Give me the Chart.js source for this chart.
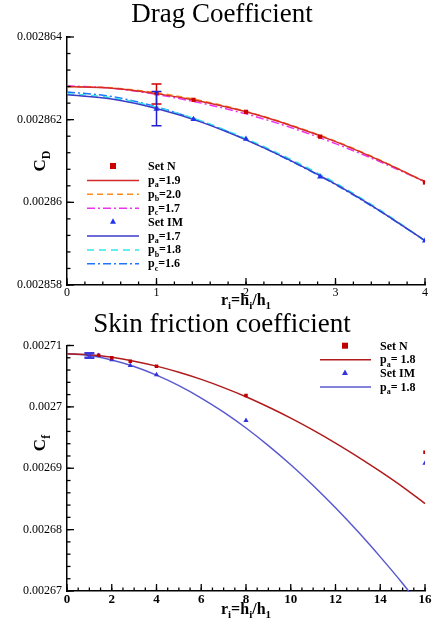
<!DOCTYPE html>
<html lang="en">
<head>
<meta charset="UTF-8">
<title>Drag and skin friction coefficients</title>
<style>
  html, body { margin: 0; padding: 0; background: #fff; }
  body { width: 434px; height: 625px; position: relative; overflow: hidden; }
  canvas { position: absolute; left: 0; }
  #dragChart { top: 0; }
  #frictionChart { top: 300px; }
</style>
</head>
<body>
<canvas id="dragChart" width="434" height="312"></canvas>
<canvas id="frictionChart" width="434" height="325"></canvas>

<script src="https://cdn.jsdelivr.net/npm/chart.js"></script>
<script>
// ---------- Drag coefficient data ----------
const dragX = [0, 0.5, 1, 1.5, 2, 2.5, 3, 3.5, 4];
const dragN_pa = [0.0028628, 0.00286276, 0.00286263, 0.00286244, 0.00286219, 0.00286186, 0.00286147, 0.00286101, 0.0028605];
const dragN_pb = [0.0028628, 0.00286277, 0.00286265, 0.00286246, 0.0028622, 0.00286187, 0.00286148, 0.00286102, 0.0028605];
const dragN_pc = [0.00286282, 0.00286276, 0.00286261, 0.0028624, 0.00286214, 0.00286181, 0.00286142, 0.00286098, 0.0028605];
const dragIM_pa = [0.0028626, 0.0028625, 0.00286227, 0.00286194, 0.00286151, 0.00286101, 0.00286044, 0.00285979, 0.00285907];
const dragIM_pb = [0.00286263, 0.00286253, 0.0028623, 0.00286197, 0.00286154, 0.00286104, 0.00286047, 0.00285981, 0.00285907];
const dragIM_pc = [0.00286267, 0.00286256, 0.00286231, 0.00286196, 0.00286152, 0.002861, 0.00286043, 0.00285978, 0.00285907];

const dragPtX = [1, 1.414, 2, 2.828, 4];
const dragSetN = [0.00286264, 0.00286248, 0.00286219, 0.00286159, 0.00286048];
const dragSetIM = [0.00286226, 0.00286201, 0.00286153, 0.00286062, 0.00285907];

// error bars at r=1: [low, high]
const dragErrN = [0.00286238, 0.00286286];
const dragErrIM = [0.00286185, 0.00286268];

const dragXTicks = [0, 1, 2, 3, 4];
const dragYTicks = [0.002858, 0.00286, 0.002862, 0.002864];
const dragYLabels = ['0.002858', '0.00286', '0.002862', '0.002864'];

// ---------- Skin friction data ----------
const fricX = [0, 1, 2, 3, 4, 5, 6, 7, 8, 9, 10, 11, 12, 13, 14, 15, 16];
const fricN_pa = [0.00270865, 0.00270848, 0.00270807, 0.00270745, 0.00270664, 0.00270564, 0.00270448, 0.00270314, 0.00270165, 0.00269998, 0.00269818, 0.00269622, 0.00269411, 0.00269187, 0.00268948, 0.00268697, 0.00268425];
const fricIM_pa = [0.00270865, 0.00270836, 0.00270765, 0.00270658, 0.00270517, 0.00270346, 0.00270144, 0.00269914, 0.00269656, 0.00269369, 0.00269057, 0.00268719, 0.00268355, 0.00267968, 0.00267556, 0.00267123, 0.00266655];

const fricPtX = [1, 1.414, 2, 2.828, 4, 8, 16];
const fricSetN = [0.0027085, 0.0027084, 0.002708, 0.00270745, 0.00270663, 0.00270187, 0.0026926];
const fricSetIM = [0.0027085, 0.00270837, 0.00270767, 0.00270675, 0.00270524, 0.0026978, 0.0026908];
const fricErrIM = [0.002708, 0.00270875];

const fricXTicks = [0, 2, 4, 6, 8, 10, 12, 14, 16];
const fricYTicks = [0.00267, 0.00268, 0.00269, 0.0027, 0.00271];
const fricYLabels = ['0.00267', '0.00268', '0.00269', '0.0027', '0.00271'];

const SERIF = "'Liberation Serif', 'Times New Roman', serif";

// turn 'p_a=1.9' into [['p',0],['a',1],['=1.9',0]]
function parseSub(str) {
  const parts = [];
  let buf = '';
  for (let i = 0; i < str.length; i++) {
    if (str[i] === '_') {
      if (buf) parts.push([buf, 0]);
      buf = '';
      parts.push([str[i + 1], 1]);
      i++;
    } else {
      buf += str[i];
    }
  }
  if (buf) parts.push([buf, 0]);
  return parts;
}

function drawRich(ctx, str, x, y, size, align) {
  const parts = parseSub(str);
  const subSize = Math.round(size * 0.68);
  let w = 0;
  parts.forEach(p => {
    ctx.font = 'bold ' + (p[1] ? subSize : size) + 'px ' + SERIF;
    w += ctx.measureText(p[0]).width;
  });
  let cx = align === 'center' ? x - w / 2 : x;
  ctx.textAlign = 'left';
  ctx.textBaseline = 'alphabetic';
  parts.forEach(p => {
    ctx.font = 'bold ' + (p[1] ? subSize : size) + 'px ' + SERIF;
    ctx.fillText(p[0], cx, p[1] ? y + size * 0.28 : y);
    cx += ctx.measureText(p[0]).width;
  });
}

function drawMarker(ctx, style, x, y, r, color) {
  ctx.fillStyle = color;
  if (style === 'rect') {
    ctx.fillRect(x - r, y - r, 2 * r, 2 * r);
  } else {
    ctx.beginPath();
    ctx.moveTo(x, y - r * 1.1);
    ctx.lineTo(x + r, y + r * 0.7);
    ctx.lineTo(x - r, y + r * 0.7);
    ctx.closePath();
    ctx.fill();
  }
}

function tick(ctx, x1, y1, x2, y2) {
  ctx.beginPath();
  ctx.moveTo(x1, y1);
  ctx.lineTo(x2, y2);
  ctx.stroke();
}

// titles, inward ticks, error bars and legend
const decorPlugin = {
  id: 'decor',
  afterDraw(chart, args, o) {
    const ctx = chart.ctx;
    const { left, right, top, bottom } = chart.chartArea;
    const xs = chart.scales.x, ys = chart.scales.y;
    ctx.save();

    // ticks (drawn inside the frame)
    ctx.strokeStyle = '#000';
    ctx.lineWidth = 1.3;
    ctx.setLineDash([]);
    const nx = Math.round((xs.max - xs.min) / o.minorX);
    for (let i = 0; i <= nx; i++) {
      const px = xs.getPixelForValue(xs.min + i * o.minorX);
      tick(ctx, px, bottom, px, bottom - 3.5);
    }
    xs.ticks.forEach(t => {
      const px = xs.getPixelForValue(t.value);
      tick(ctx, px, bottom, px, bottom - 7);
    });
    const ny = Math.round((ys.max - ys.min) / o.minorY);
    for (let i = 0; i <= ny; i++) {
      const py = ys.getPixelForValue(ys.min + i * o.minorY);
      tick(ctx, left, py, left + 3.5, py);
    }
    ys.ticks.forEach(t => {
      const py = ys.getPixelForValue(t.value);
      tick(ctx, left, py, left + 7, py);
    });

    // error bars
    (o.errorBars || []).forEach(e => {
      const px = xs.getPixelForValue(e.x);
      const p1 = ys.getPixelForValue(e.range[0]);
      const p2 = ys.getPixelForValue(e.range[1]);
      ctx.strokeStyle = e.color;
      ctx.lineWidth = e.width;
      ctx.beginPath();
      ctx.moveTo(px, p1); ctx.lineTo(px, p2);
      ctx.moveTo(px - e.cap, p1); ctx.lineTo(px + e.cap, p1);
      ctx.moveTo(px - e.cap, p2); ctx.lineTo(px + e.cap, p2);
      ctx.stroke();
    });

    // chart title
    ctx.fillStyle = '#000';
    ctx.font = '27px ' + SERIF;
    ctx.textAlign = 'center';
    ctx.textBaseline = 'alphabetic';
    ctx.fillText(o.title, 222, o.titleY);

    // axis titles
    drawRich(ctx, o.xTitle, (left + right) / 2, o.xTitleY, 16, 'center');
    ctx.save();
    ctx.translate(o.yTitleX, o.yTitleY);
    ctx.rotate(-Math.PI / 2);
    drawRich(ctx, o.yTitle, 0, 0, 17, 'center');
    ctx.restore();

    // legend
    const lg = o.legend;
    lg.items.forEach((it, i) => {
      const y = lg.y0 + i * lg.dy;
      if (it.marker) {
        drawMarker(ctx, it.marker, lg.mx, y, 3, it.color);
      } else {
        ctx.strokeStyle = it.color;
        ctx.lineWidth = 1.5;
        ctx.setLineDash(it.dash || []);
        ctx.beginPath(); ctx.moveTo(lg.x0, y + 0.5); ctx.lineTo(lg.x1, y + 0.5); ctx.stroke();
        ctx.setLineDash([]);
      }
      ctx.fillStyle = '#000';
      drawRich(ctx, it.label, lg.tx, y + 4, lg.size, 'left');
    });
    ctx.restore();
  }
};

function pts(xs, ys) {
  return xs.map((x, i) => ({ x: x, y: ys[i] }));
}

function curve(xs, ys, color, dash) {
  return {
    data: pts(xs, ys), showLine: true, borderColor: color, borderWidth: 1.5,
    borderDash: dash || [], pointRadius: 0, cubicInterpolationMode: 'monotone', clip: 1
  };
}

function marks(xs, ys, style, color, r) {
  return {
    data: pts(xs, ys), showLine: false, pointStyle: style, pointRadius: r,
    backgroundColor: color, borderColor: color, borderWidth: 0
  };
}

function scales(xMin, xMax, xTicks, xFont, xHeight, yMin, yMax, yTicks, yLabels) {
  return {
    x: {
      type: 'linear', min: xMin, max: xMax,
      afterBuildTicks: s => { s.ticks = xTicks.map(v => ({ value: v })); },
      afterFit: s => { s.height = xHeight; },
      ticks: { font: xFont, color: '#000', padding: 1, maxRotation: 0 },
      grid: { display: true, drawOnChartArea: false, drawTicks: false },
      border: { display: true, color: '#000', width: 1.5 }
    },
    y: {
      type: 'linear', min: yMin, max: yMax,
      afterBuildTicks: s => { s.ticks = yTicks.map(v => ({ value: v })); },
      afterFit: s => { s.width = 67; },
      ticks: { font: { family: SERIF, size: 12 }, color: '#000', padding: 5, callback: (v, i) => yLabels[i] },
      grid: { display: true, drawOnChartArea: false, drawTicks: false },
      border: { display: true, color: '#000', width: 1.5 }
    }
  };
}

// ---------- Drag coefficient chart ----------
new Chart(document.getElementById('dragChart'), {
  type: 'scatter',
  data: {
    datasets: [
      marks(dragPtX, dragSetN, 'rect', '#cc0000', 3),
      marks(dragPtX, dragSetIM, 'triangle', '#2233ee', 3.5),
      curve(dragX, dragN_pa, '#d42a2a'),
      curve(dragX, dragN_pb, '#ff8c1a', [6, 4]),
      curve(dragX, dragN_pc, '#ee33ee', [8, 3, 2, 3]),
      curve(dragX, dragIM_pa, '#3b3bc8'),
      curve(dragX, dragIM_pb, '#33e6e6', [7, 5]),
      curve(dragX, dragIM_pc, '#1a75ff', [8, 3, 2, 3])
    ]
  },
  options: {
    responsive: false,
    animation: false,
    layout: { padding: { top: 37, right: 9, left: 0, bottom: 0 } },
    scales: scales(0, 4, dragXTicks, { family: SERIF, size: 12 }, 27, 0.002858, 0.002864, dragYTicks, dragYLabels),
    plugins: {
      legend: { display: false },
      tooltip: { enabled: false },
      decor: {
        title: 'Drag Coefficient', titleY: 22,
        xTitle: 'r_i=h_i/h_1', xTitleY: 305,
        yTitle: 'C_D', yTitleX: 45, yTitleY: 161,
        minorX: 0.2, minorY: 0.0000004,
        errorBars: [
          { x: 1, range: dragErrN, color: '#d00000', width: 1.5, cap: 5 },
          { x: 1, range: dragErrIM, color: '#2020d0', width: 1.5, cap: 5 }
        ],
        legend: {
          x0: 87, x1: 139, mx: 113, tx: 148, y0: 166, dy: 13.9, size: 12,
          items: [
            { marker: 'rect', color: '#cc0000', label: 'Set N' },
            { color: '#d42a2a', label: 'p_a=1.9' },
            { color: '#ff8c1a', dash: [6, 4], label: 'p_b=2.0' },
            { color: '#ee33ee', dash: [8, 3, 2, 3], label: 'p_c=1.7' },
            { marker: 'triangle', color: '#2233ee', label: 'Set IM' },
            { color: '#3b3bc8', label: 'p_a=1.7' },
            { color: '#33e6e6', dash: [7, 5], label: 'p_b=1.8' },
            { color: '#1a75ff', dash: [8, 3, 2, 3], label: 'p_c=1.6' }
          ]
        }
      }
    }
  },
  plugins: [decorPlugin]
});

// ---------- Skin friction chart ----------
new Chart(document.getElementById('frictionChart'), {
  type: 'scatter',
  data: {
    datasets: [
      marks(fricPtX, fricSetN, 'rect', '#c00000', 2.5),
      marks(fricPtX, fricSetIM, 'triangle', '#3333dd', 3),
      curve(fricX, fricN_pa, '#b01c1c'),
      curve(fricX, fricIM_pa, '#5a5ad0')
    ]
  },
  options: {
    responsive: false,
    animation: false,
    layout: { padding: { top: 45.5, right: 9, left: 0, bottom: 0 } },
    scales: scales(0, 16, fricXTicks, { family: SERIF, size: 13, weight: 'bold' }, 34, 0.00267, 0.00271, fricYTicks, fricYLabels),
    plugins: {
      legend: { display: false },
      tooltip: { enabled: false },
      decor: {
        title: 'Skin friction coefficient', titleY: 32,
        xTitle: 'r_i=h_i/h_1', xTitleY: 314,
        yTitle: 'C_f', yTitleX: 45, yTitleY: 143,
        minorX: 0.5, minorY: 0.000002,
        errorBars: [
          { x: 1, range: fricErrIM, color: '#3b3bdd', width: 2.5, cap: 5 }
        ],
        legend: {
          x0: 320, x1: 371, mx: 345, tx: 380, y0: 45.7, dy: 13.6, size: 12,
          items: [
            { marker: 'rect', color: '#c00000', label: 'Set N' },
            { color: '#b01c1c', label: 'p_a= 1.8' },
            { marker: 'triangle', color: '#3333dd', label: 'Set IM' },
            { color: '#5a5ad0', label: 'p_a= 1.8' }
          ]
        }
      }
    }
  },
  plugins: [decorPlugin]
});
</script>
</body>
</html>
